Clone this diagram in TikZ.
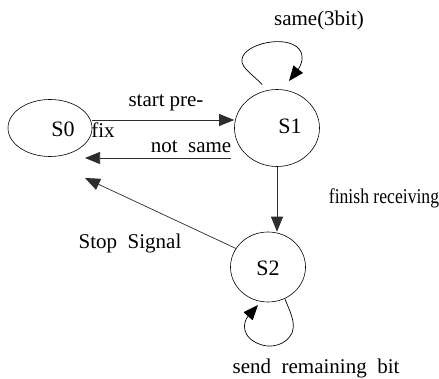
\documentclass[tikz,border=0pt]{standalone}
\usepackage{fontspec}
\setmainfont{Liberation Serif}[WordSpace=2.0]
\newfontfamily\serfont{Liberation Serif}[WordSpace=2.0]
\newfontfamily\condfont{Liberation Serif}[FakeStretch=0.84]
\usetikzlibrary{shapes.geometric,arrows.meta}
\definecolor{darkline}{RGB}{45,45,45}
\begin{document}
\begin{tikzpicture}[x=1pt,y=-1pt,
  state/.style={ellipse,draw,line width=0.6pt,inner sep=0pt},
  arr/.style={-{Triangle[length=15pt,width=12pt]},line width=0.7pt,draw=darkline,fill=none},
  loop/.style={-{Triangle[length=15pt,width=12pt]},line width=0.7pt,draw=black},
  lbl/.style={font=\serfont\fontsize{21}{23}\selectfont,inner sep=0pt,anchor=base},
  stlbl/.style={font=\serfont\fontsize{22}{24}\selectfont,inner sep=0pt,anchor=base}
]
\useasboundingbox (0,0) rectangle (439,379);
% states
\node[state,minimum width=84pt,minimum height=57pt] (S0) at (50,128) {};
\node[state,minimum width=85pt,minimum height=77pt] (S1) at (277,128) {};
\node[state,minimum width=75pt,minimum height=70pt] (S2) at (268,267) {};
\node[stlbl] (S0t) at (63,137) {S0};
\node[stlbl] (S1t) at (290,134) {S1};
\node[stlbl] (S2t) at (268,276) {S2};
% labels
\node[lbl] (lsame) at (319,26) {same(3bit)};
\node[lbl] (lstart) at (166,107) {start\hspace{5pt}pre-};
\node[lbl] (lfix) at (103,138) {fix};
\node[lbl] (lnot) at (191,153) {not same};
\node[lbl,font=\condfont\fontsize{21}{23}\selectfont] (lfin) at (384,204) {finish receiving};
\node[lbl] (lstop) at (130,249) {Stop Signal};
\node[lbl] (lsend) at (316,373) {send remaining bit};
% connectors
\coordinate (stopend) at (85,178);
\coordinate (notend) at (85,158);
\draw[arr] (S0.east |- 0,120) -- (S1.west |- 0,120);
\draw[arr] (S1.west |- 0,158) ++(-3,0) -- (notend);
\draw[arr] (S1.south) -- (S1.south |- S2.north);
\draw[arr] (S2.150) -- (stopend);
% self loops
\draw[loop] ([yshift=7pt]S1.112) .. controls (250,72) and (238,66) .. (243,56)
  .. controls (250,42) and (292,34) .. (301,52)
  .. controls (304,60) and (300,67) .. (289,81);
\draw[loop] (S2.-62) .. controls (290,312) and (296,322) .. (292,333)
  .. controls (286,345) and (272,348) .. (262,345)
  .. controls (240,338) and (243,322) .. (258,305);
\end{tikzpicture}
\end{document}
